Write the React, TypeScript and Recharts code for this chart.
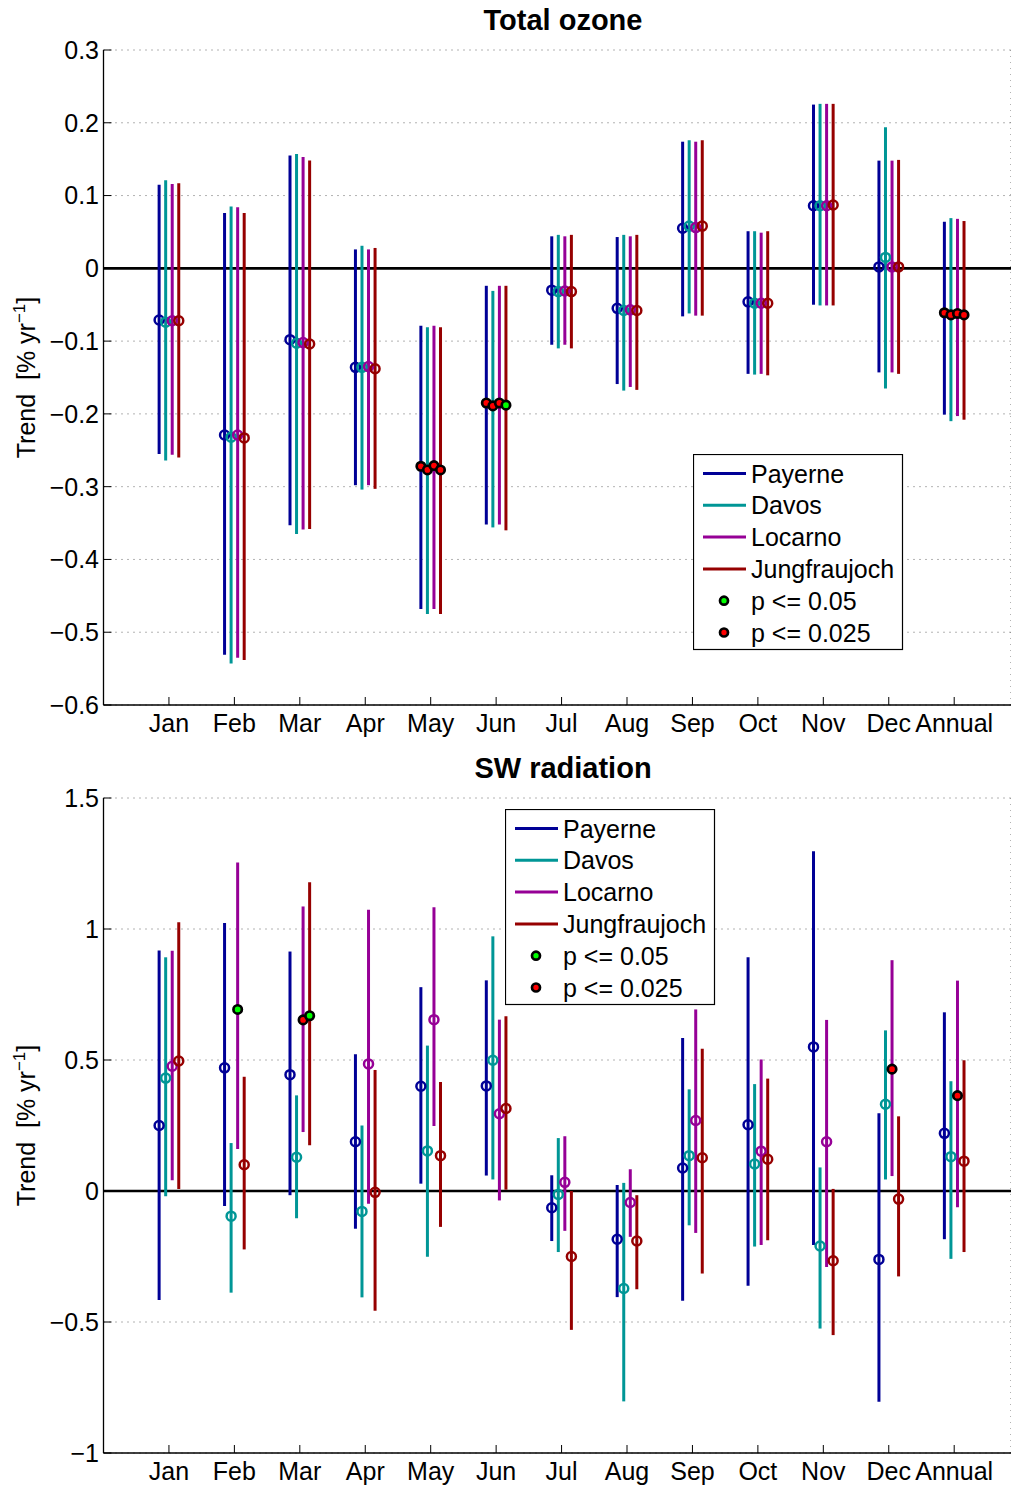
import React from 'react';
import { ScatterChart, Scatter, XAxis, YAxis, CartesianGrid, ErrorBar, ReferenceLine } from 'recharts';

const categories = ['Jan', 'Feb', 'Mar', 'Apr', 'May', 'Jun', 'Jul', 'Aug', 'Sep', 'Oct', 'Nov', 'Dec', 'Annual'];
const categoryTicks = [1, 2, 3, 4, 5, 6, 7, 8, 9, 10, 11, 12, 13];
const stations = ['Payerne', 'Davos', 'Locarno', 'Jungfraujoch'];
const stationColors = ['#000096', '#009696', '#960096', '#960000'];
const stationOffsets = [-0.15, -0.05, 0.05, 0.15];

// ---- Total ozone ----
const ozoneTicks = [-0.6, -0.5, -0.4, -0.3, -0.2, -0.1, 0, 0.1, 0.2, 0.3];
const ozonePayerneTrend = [-0.071, -0.229, -0.098, -0.136, -0.272, -0.185, -0.030, -0.055, 0.055, -0.046, 0.086, 0.002, -0.061];
const ozoneDavosTrend = [-0.074, -0.232, -0.103, -0.136, -0.277, -0.189, -0.032, -0.058, 0.058, -0.048, 0.086, 0.015, -0.064];
const ozoneLocarnoTrend = [-0.072, -0.229, -0.102, -0.135, -0.271, -0.185, -0.031, -0.057, 0.056, -0.048, 0.086, 0.002, -0.062];
const ozoneJungTrend = [-0.072, -0.233, -0.104, -0.138, -0.277, -0.188, -0.032, -0.058, 0.058, -0.048, 0.087, 0.002, -0.064];

const ozonePayerneHigh = [0.115, 0.076, 0.155, 0.026, -0.079, -0.024, 0.044, 0.043, 0.174, 0.051, 0.225, 0.148, 0.064];
const ozoneDavosHigh = [0.121, 0.085, 0.157, 0.031, -0.081, -0.031, 0.046, 0.046, 0.176, 0.051, 0.226, 0.194, 0.069];
const ozoneLocarnoHigh = [0.116, 0.084, 0.153, 0.026, -0.079, -0.024, 0.044, 0.044, 0.174, 0.049, 0.226, 0.148, 0.068];
const ozoneJungHigh = [0.117, 0.076, 0.148, 0.028, -0.081, -0.024, 0.046, 0.046, 0.176, 0.051, 0.226, 0.149, 0.065];

const ozonePayerneLow = [-0.255, -0.531, -0.353, -0.298, -0.468, -0.352, -0.105, -0.159, -0.066, -0.145, -0.050, -0.143, -0.201];
const ozoneDavosLow = [-0.264, -0.543, -0.365, -0.304, -0.475, -0.356, -0.110, -0.168, -0.062, -0.146, -0.051, -0.165, -0.210];
const ozoneLocarnoLow = [-0.256, -0.535, -0.359, -0.298, -0.468, -0.352, -0.105, -0.163, -0.065, -0.145, -0.051, -0.143, -0.203];
const ozoneJungLow = [-0.260, -0.538, -0.358, -0.303, -0.475, -0.360, -0.110, -0.167, -0.065, -0.147, -0.051, -0.145, -0.208];

// 0 = not significant, 1 = p <= 0.05, 2 = p <= 0.025
const ozonePayerneSig = [0, 0, 0, 0, 2, 2, 0, 0, 0, 0, 0, 0, 2];
const ozoneDavosSig = [0, 0, 0, 0, 2, 2, 0, 0, 0, 0, 0, 0, 2];
const ozoneLocarnoSig = [0, 0, 0, 0, 2, 2, 0, 0, 0, 0, 0, 0, 2];
const ozoneJungSig = [0, 0, 0, 0, 2, 1, 0, 0, 0, 0, 0, 0, 2];

// ---- SW radiation ----
const swTicks = [-1, -0.5, 0, 0.5, 1, 1.5];
const swPayerneTrend = [0.250, 0.470, 0.444, 0.188, 0.400, 0.401, -0.064, -0.184, 0.088, 0.253, 0.550, -0.261, 0.220];
const swDavosTrend = [0.431, -0.096, 0.129, -0.078, 0.153, 0.499, -0.013, -0.372, 0.135, 0.103, -0.210, 0.331, 0.131];
const swLocarnoTrend = [0.476, 0.693, 0.653, 0.485, 0.654, 0.295, 0.033, -0.044, 0.269, 0.152, 0.188, 0.465, 0.364];
const swJungTrend = [0.496, 0.100, 0.669, -0.005, 0.135, 0.315, -0.250, -0.191, 0.127, 0.121, -0.266, -0.031, 0.114];

const swPayerneHigh = [0.918, 1.023, 0.914, 0.522, 0.778, 0.804, 0.060, 0.023, 0.584, 0.892, 1.297, 0.297, 0.682];
const swDavosHigh = [0.892, 0.183, 0.365, 0.250, 0.555, 0.972, 0.202, 0.031, 0.388, 0.408, 0.090, 0.613, 0.419];
const swLocarnoHigh = [0.917, 1.254, 1.086, 1.073, 1.083, 0.654, 0.209, 0.083, 0.693, 0.502, 0.653, 0.881, 0.803];
const swJungHigh = [1.026, 0.436, 1.178, 0.462, 0.416, 0.667, 0.0, -0.016, 0.543, 0.429, 0.008, 0.285, 0.499];

const swPayerneLow = [-0.416, -0.057, -0.016, -0.144, 0.028, 0.059, -0.191, -0.405, -0.419, -0.362, -0.206, -0.804, -0.184];
const swDavosLow = [-0.020, -0.388, -0.104, -0.406, -0.251, 0.044, -0.233, -0.803, -0.131, -0.212, -0.525, 0.044, -0.259];
const swLocarnoLow = [0.041, 0.160, 0.225, -0.049, 0.248, -0.036, -0.152, -0.175, -0.160, -0.206, -0.290, 0.057, -0.062];
const swJungLow = [0.008, -0.223, 0.175, -0.457, -0.137, 0.005, -0.530, -0.375, -0.315, -0.188, -0.550, -0.326, -0.233];

const swPayerneSig = [0, 0, 0, 0, 0, 0, 0, 0, 0, 0, 0, 0, 0];
const swDavosSig = [0, 0, 0, 0, 0, 0, 0, 0, 0, 0, 0, 0, 0];
const swLocarnoSig = [0, 1, 2, 0, 0, 0, 0, 0, 0, 0, 0, 2, 2];
const swJungSig = [0, 0, 1, 0, 0, 0, 0, 0, 0, 0, 0, 0, 0];

const FONT = '"Liberation Sans", Arial, Helvetica, sans-serif';

type Pt = { x: number; y: number; err: [number, number]; sig: number };

function buildSeries(trend: number[], low: number[], high: number[], sig: number[], offset: number): Pt[] {
  return categories.map((_, i) => ({
    x: i + 1 + offset,
    y: trend[i],
    err: [trend[i] - low[i], high[i] - trend[i]],
    sig: sig[i],
  }));
}

const ozoneSeries = [
  buildSeries(ozonePayerneTrend, ozonePayerneLow, ozonePayerneHigh, ozonePayerneSig, stationOffsets[0]),
  buildSeries(ozoneDavosTrend, ozoneDavosLow, ozoneDavosHigh, ozoneDavosSig, stationOffsets[1]),
  buildSeries(ozoneLocarnoTrend, ozoneLocarnoLow, ozoneLocarnoHigh, ozoneLocarnoSig, stationOffsets[2]),
  buildSeries(ozoneJungTrend, ozoneJungLow, ozoneJungHigh, ozoneJungSig, stationOffsets[3]),
];

const swSeries = [
  buildSeries(swPayerneTrend, swPayerneLow, swPayerneHigh, swPayerneSig, stationOffsets[0]),
  buildSeries(swDavosTrend, swDavosLow, swDavosHigh, swDavosSig, stationOffsets[1]),
  buildSeries(swLocarnoTrend, swLocarnoLow, swLocarnoHigh, swLocarnoSig, stationOffsets[2]),
  buildSeries(swJungTrend, swJungLow, swJungHigh, swJungSig, stationOffsets[3]),
];

const makeShape = (color: string) => (props: any) => {
  const { cx, cy, payload } = props;
  if (cx == null || cy == null) return <g />;
  const sig = payload ? payload.sig : 0;
  if (sig === 1) return <circle cx={cx} cy={cy} r={4.2} fill="#00ff00" stroke="#000" strokeWidth={2.7} />;
  if (sig === 2) return <circle cx={cx} cy={cy} r={4.2} fill="#ff0000" stroke="#000" strokeWidth={2.7} />;
  return <circle cx={cx} cy={cy} r={4.5} fill="none" stroke={color} strokeWidth={2.5} />;
};

const fmt = (v: number) => String(v).replace('-', '\u2212');

const YLabel = (props: any) => {
  const vb = props.viewBox || { x: 0, y: 0, width: 0, height: 0 };
  const x = 35;
  const y = vb.y + vb.height / 2;
  return (
    <text
      x={x}
      y={y}
      transform={`rotate(-90 ${x} ${y})`}
      textAnchor="middle"
      fontFamily={FONT}
      fontSize={25}
      fill="#000"
    >
      {'Trend\u00A0\u00A0[% yr'}
      <tspan dy={-10} fontSize={17}>{'\u22121'}</tspan>
      <tspan dy={10}>{']'}</tspan>
    </text>
  );
};

const XDOMAIN: [number, number] = [0, 13.868];

function Panel({ series, yDomain, yTicks }: { series: Pt[][]; yDomain: [number, number]; yTicks: number[] }) {
  return (
    <ScatterChart width={1011} height={740} margin={{ top: 50, right: 0, bottom: 0, left: 0 }}>
      <CartesianGrid stroke="#666" strokeDasharray="1 5" strokeWidth={1} />
      <XAxis
        xAxisId="main"
        type="number"
        dataKey="x"
        domain={XDOMAIN}
        ticks={categoryTicks}
        interval={0}
        allowDataOverflow
        tickFormatter={(v: number) => categories[Math.round(v) - 1] || ''}
        height={35}
        tickSize={-8}
        tickMargin={17}
        stroke="#000"
        axisLine={{ stroke: '#000', strokeWidth: 1.3 }}
        tickLine={{ stroke: '#000', strokeWidth: 1 }}
        tick={{ fill: '#000', fontSize: 25, fontFamily: FONT }}
      />
      <XAxis
        xAxisId="top"
        orientation="top"
        type="number"
        domain={XDOMAIN}
        ticks={categoryTicks}
        interval={0}
        allowDataOverflow
        height={0}
        tickSize={-8}
        tick={false}
        axisLine={{ stroke: '#000', strokeWidth: 1.3 }}
        tickLine={{ stroke: '#000', strokeWidth: 1 }}
      />
      <YAxis
        type="number"
        dataKey="y"
        domain={yDomain}
        ticks={yTicks}
        interval={0}
        allowDataOverflow
        width={103.5}
        tickSize={-8}
        tickMargin={12.5}
        tickFormatter={fmt}
        axisLine={{ stroke: '#000', strokeWidth: 1.3 }}
        tickLine={{ stroke: '#000', strokeWidth: 1 }}
        tick={{ fill: '#000', fontSize: 25, fontFamily: FONT }}
        label={(p: any) => <YLabel {...p} />}
      />
      <ReferenceLine xAxisId="main" y={0} stroke="#000" strokeWidth={2.7} />
      {series.map((data, si) => (
        <Scatter
          key={stations[si]}
          name={stations[si]}
          xAxisId="main"
          data={data}
          dataKey="y"
          isAnimationActive={false}
          shape={makeShape(stationColors[si])}
        >
          <ErrorBar dataKey="err" direction="y" width={0} stroke={stationColors[si]} strokeWidth={3} />
        </Scatter>
      ))}
    </ScatterChart>
  );
}

const legendRows = [
  ...stations.map((s, i) => ({ label: s, kind: 'line', color: stationColors[i] })),
  { label: 'p <= 0.05', kind: 'dot', color: '#00ff00' },
  { label: 'p <= 0.025', kind: 'dot', color: '#ff0000' },
];

function LegendBox({ left, top }: { left: number; top: number }) {
  return (
    <svg style={{ position: 'absolute', left, top }} width={211} height={197}>
      <rect x={0.5} y={0.5} width={209} height={195} fill="#fff" stroke="#000" strokeWidth={1.2} />
      {legendRows.map((r, i) => {
        const cy = 19.5 + i * 31.8;
        return (
          <g key={r.label}>
            {r.kind === 'line' ? (
              <line x1={10} x2={53} y1={cy} y2={cy} stroke={r.color} strokeWidth={3} />
            ) : (
              <circle cx={31} cy={cy} r={4} fill={r.color} stroke="#000" strokeWidth={2.7} />
            )}
            <text x={58} y={cy + 9} fontFamily={FONT} fontSize={25} fill="#000">
              {r.label}
            </text>
          </g>
        );
      })}
    </svg>
  );
}

const titleStyle: React.CSSProperties = {
  position: 'absolute',
  left: 263,
  width: 600,
  textAlign: 'center',
  fontFamily: FONT,
  fontWeight: 'bold',
  fontSize: 29,
  lineHeight: '29px',
  color: '#000',
};

export default function App() {
  return (
    <div style={{ position: 'absolute', left: 0, top: 0, width: 1011, height: 1487, background: '#fff', overflow: 'hidden' }}>
      <div style={{ position: 'absolute', left: 0, top: 0 }}>
        <Panel series={ozoneSeries} yDomain={[-0.6, 0.3]} yTicks={ozoneTicks} />
      </div>
      <div style={{ position: 'absolute', left: 0, top: 748 }}>
        <Panel series={swSeries} yDomain={[-1, 1.5]} yTicks={swTicks} />
      </div>
      <div style={{ ...titleStyle, top: 6 }}>Total ozone</div>
      <div style={{ ...titleStyle, top: 754 }}>SW radiation</div>
      <LegendBox left={693} top={454} />
      <LegendBox left={505} top={809} />
    </div>
  );
}
